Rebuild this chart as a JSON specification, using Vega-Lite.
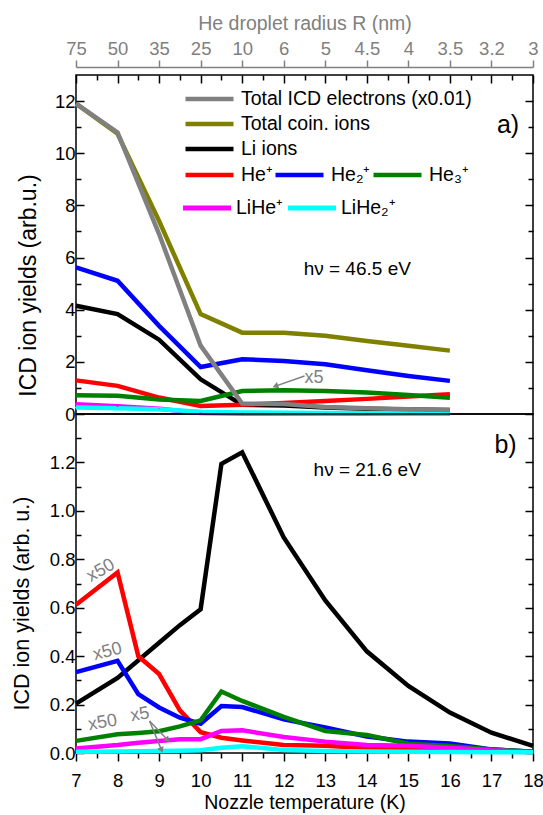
{
  "$schema": "https://vega.github.io/schema/vega-lite/v6.json",
  "padding": {"left": 10, "top": 12, "right": 5, "bottom": 0},
  "bounds": "flush",
  "spacing": 0,
  "config": {
    "font": "Liberation Sans",
    "view": {"stroke": "#000000", "strokeWidth": 1.5},
    "axis": {"grid": false, "domain": false, "tickColor": "#000000", "tickWidth": 1.5, "labelColor": "#000000", "titleColor": "#000000", "labelFont": "Liberation Sans", "titleFont": "Liberation Sans", "labelFontSize": 18.5, "titleFontSize": 19.5, "titleFontWeight": "normal", "labelFlush": false, "labelOverlap": false},
    "legend": {"labelFont": "Liberation Sans", "labelFontSize": 19.5, "labelColor": "#000000", "labelLimit": 400},
    "text": {"font": "Liberation Sans"}
  },
  "datasets": {
    "a": [
      {"s": "Li ions", "T": 7, "v": 4.15}, {"s": "Li ions", "T": 8, "v": 3.83}, {"s": "Li ions", "T": 9, "v": 2.85}, {"s": "Li ions", "T": 10, "v": 1.33}, {"s": "Li ions", "T": 11, "v": 0.35}, {"s": "Li ions", "T": 12, "v": 0.33}, {"s": "Li ions", "T": 13, "v": 0.25}, {"s": "Li ions", "T": 14, "v": 0.2}, {"s": "Li ions", "T": 15, "v": 0.17}, {"s": "Li ions", "T": 16, "v": 0.15},
      {"s": "He⁺", "T": 7, "v": 1.29}, {"s": "He⁺", "T": 8, "v": 1.08}, {"s": "He⁺", "T": 9, "v": 0.63}, {"s": "He⁺", "T": 10, "v": 0.31}, {"s": "He⁺", "T": 11, "v": 0.35}, {"s": "He⁺", "T": 12, "v": 0.42}, {"s": "He⁺", "T": 13, "v": 0.5}, {"s": "He⁺", "T": 14, "v": 0.58}, {"s": "He⁺", "T": 15, "v": 0.67}, {"s": "He⁺", "T": 16, "v": 0.76},
      {"s": "He₂⁺", "T": 7, "v": 5.62}, {"s": "He₂⁺", "T": 8, "v": 5.11}, {"s": "He₂⁺", "T": 9, "v": 3.38}, {"s": "He₂⁺", "T": 10, "v": 1.8}, {"s": "He₂⁺", "T": 11, "v": 2.1}, {"s": "He₂⁺", "T": 12, "v": 2.03}, {"s": "He₂⁺", "T": 13, "v": 1.91}, {"s": "He₂⁺", "T": 14, "v": 1.68}, {"s": "He₂⁺", "T": 15, "v": 1.46}, {"s": "He₂⁺", "T": 16, "v": 1.27},
      {"s": "He₃⁺", "T": 7, "v": 0.72}, {"s": "He₃⁺", "T": 8, "v": 0.7}, {"s": "He₃⁺", "T": 9, "v": 0.56}, {"s": "He₃⁺", "T": 10, "v": 0.5}, {"s": "He₃⁺", "T": 11, "v": 0.88}, {"s": "He₃⁺", "T": 12, "v": 0.91}, {"s": "He₃⁺", "T": 13, "v": 0.88}, {"s": "He₃⁺", "T": 14, "v": 0.82}, {"s": "He₃⁺", "T": 15, "v": 0.73}, {"s": "He₃⁺", "T": 16, "v": 0.62},
      {"s": "LiHe⁺", "T": 7, "v": 0.37}, {"s": "LiHe⁺", "T": 8, "v": 0.3}, {"s": "LiHe⁺", "T": 9, "v": 0.2}, {"s": "LiHe⁺", "T": 10, "v": 0.04}, {"s": "LiHe⁺", "T": 11, "v": 0.02}, {"s": "LiHe⁺", "T": 12, "v": 0.02}, {"s": "LiHe⁺", "T": 13, "v": 0.02}, {"s": "LiHe⁺", "T": 14, "v": 0.01}, {"s": "LiHe⁺", "T": 15, "v": 0.01}, {"s": "LiHe⁺", "T": 16, "v": 0.01},
      {"s": "LiHe₂⁺", "T": 7, "v": 0.25}, {"s": "LiHe₂⁺", "T": 8, "v": 0.22}, {"s": "LiHe₂⁺", "T": 9, "v": 0.18}, {"s": "LiHe₂⁺", "T": 10, "v": 0.09}, {"s": "LiHe₂⁺", "T": 11, "v": 0.06}, {"s": "LiHe₂⁺", "T": 12, "v": 0.05}, {"s": "LiHe₂⁺", "T": 13, "v": 0.04}, {"s": "LiHe₂⁺", "T": 14, "v": 0.03}, {"s": "LiHe₂⁺", "T": 15, "v": 0.02}, {"s": "LiHe₂⁺", "T": 16, "v": 0.02},
      {"s": "Total coin. ions", "T": 7, "v": 11.9}, {"s": "Total coin. ions", "T": 8, "v": 10.75}, {"s": "Total coin. ions", "T": 9, "v": 7.4}, {"s": "Total coin. ions", "T": 10, "v": 3.83}, {"s": "Total coin. ions", "T": 11, "v": 3.12}, {"s": "Total coin. ions", "T": 12, "v": 3.12}, {"s": "Total coin. ions", "T": 13, "v": 3.0}, {"s": "Total coin. ions", "T": 14, "v": 2.8}, {"s": "Total coin. ions", "T": 15, "v": 2.62}, {"s": "Total coin. ions", "T": 16, "v": 2.43},
      {"s": "Total ICD electrons (x0.01)", "T": 7, "v": 11.9}, {"s": "Total ICD electrons (x0.01)", "T": 8, "v": 10.8}, {"s": "Total ICD electrons (x0.01)", "T": 9, "v": 6.9}, {"s": "Total ICD electrons (x0.01)", "T": 10, "v": 2.62}, {"s": "Total ICD electrons (x0.01)", "T": 11, "v": 0.4}, {"s": "Total ICD electrons (x0.01)", "T": 12, "v": 0.38}, {"s": "Total ICD electrons (x0.01)", "T": 13, "v": 0.27}, {"s": "Total ICD electrons (x0.01)", "T": 14, "v": 0.22}, {"s": "Total ICD electrons (x0.01)", "T": 15, "v": 0.18}, {"s": "Total ICD electrons (x0.01)", "T": 16, "v": 0.15}
    ],
    "b": [
      {"s": "Li ions", "T": 7, "v": 0.204}, {"s": "Li ions", "T": 8, "v": 0.31}, {"s": "Li ions", "T": 9, "v": 0.455}, {"s": "Li ions", "T": 9.5, "v": 0.528}, {"s": "Li ions", "T": 10, "v": 0.594}, {"s": "Li ions", "T": 10.5, "v": 1.194}, {"s": "Li ions", "T": 11, "v": 1.242}, {"s": "Li ions", "T": 12, "v": 0.89}, {"s": "Li ions", "T": 13, "v": 0.63}, {"s": "Li ions", "T": 14, "v": 0.42}, {"s": "Li ions", "T": 15, "v": 0.277}, {"s": "Li ions", "T": 16, "v": 0.167}, {"s": "Li ions", "T": 17, "v": 0.084}, {"s": "Li ions", "T": 18, "v": 0.029},
      {"s": "He⁺", "T": 7, "v": 0.612}, {"s": "He⁺", "T": 8, "v": 0.746}, {"s": "He⁺", "T": 8.5, "v": 0.4}, {"s": "He⁺", "T": 9, "v": 0.326}, {"s": "He⁺", "T": 9.5, "v": 0.176}, {"s": "He⁺", "T": 10, "v": 0.086}, {"s": "He⁺", "T": 10.5, "v": 0.063}, {"s": "He⁺", "T": 11, "v": 0.052}, {"s": "He⁺", "T": 12, "v": 0.033}, {"s": "He⁺", "T": 13, "v": 0.03}, {"s": "He⁺", "T": 14, "v": 0.02}, {"s": "He⁺", "T": 15, "v": 0.015}, {"s": "He⁺", "T": 16, "v": 0.01}, {"s": "He⁺", "T": 17, "v": 0.006}, {"s": "He⁺", "T": 18, "v": 0.004},
      {"s": "He₂⁺", "T": 7, "v": 0.334}, {"s": "He₂⁺", "T": 8, "v": 0.381}, {"s": "He₂⁺", "T": 8.5, "v": 0.243}, {"s": "He₂⁺", "T": 9, "v": 0.188}, {"s": "He₂⁺", "T": 9.5, "v": 0.146}, {"s": "He₂⁺", "T": 10, "v": 0.121}, {"s": "He₂⁺", "T": 10.5, "v": 0.194}, {"s": "He₂⁺", "T": 11, "v": 0.19}, {"s": "He₂⁺", "T": 12, "v": 0.139}, {"s": "He₂⁺", "T": 13, "v": 0.105}, {"s": "He₂⁺", "T": 14, "v": 0.068}, {"s": "He₂⁺", "T": 15, "v": 0.047}, {"s": "He₂⁺", "T": 16, "v": 0.039}, {"s": "He₂⁺", "T": 17, "v": 0.015}, {"s": "He₂⁺", "T": 18, "v": 0.005},
      {"s": "He₃⁺", "T": 7, "v": 0.05}, {"s": "He₃⁺", "T": 8, "v": 0.077}, {"s": "He₃⁺", "T": 8.5, "v": 0.083}, {"s": "He₃⁺", "T": 9, "v": 0.09}, {"s": "He₃⁺", "T": 9.5, "v": 0.11}, {"s": "He₃⁺", "T": 10, "v": 0.135}, {"s": "He₃⁺", "T": 10.5, "v": 0.254}, {"s": "He₃⁺", "T": 11, "v": 0.215}, {"s": "He₃⁺", "T": 12, "v": 0.149}, {"s": "He₃⁺", "T": 13, "v": 0.091}, {"s": "He₃⁺", "T": 14, "v": 0.074}, {"s": "He₃⁺", "T": 15, "v": 0.038}, {"s": "He₃⁺", "T": 16, "v": 0.029}, {"s": "He₃⁺", "T": 17, "v": 0.015}, {"s": "He₃⁺", "T": 18, "v": 0.005},
      {"s": "LiHe⁺", "T": 7, "v": 0.019}, {"s": "LiHe⁺", "T": 8, "v": 0.033}, {"s": "LiHe⁺", "T": 8.5, "v": 0.042}, {"s": "LiHe⁺", "T": 9, "v": 0.05}, {"s": "LiHe⁺", "T": 9.5, "v": 0.057}, {"s": "LiHe⁺", "T": 10, "v": 0.057}, {"s": "LiHe⁺", "T": 10.5, "v": 0.091}, {"s": "LiHe⁺", "T": 11, "v": 0.094}, {"s": "LiHe⁺", "T": 12, "v": 0.066}, {"s": "LiHe⁺", "T": 13, "v": 0.047}, {"s": "LiHe⁺", "T": 14, "v": 0.033}, {"s": "LiHe⁺", "T": 15, "v": 0.03}, {"s": "LiHe⁺", "T": 16, "v": 0.022}, {"s": "LiHe⁺", "T": 17, "v": 0.011}, {"s": "LiHe⁺", "T": 18, "v": 0.004},
      {"s": "LiHe₂⁺", "T": 7, "v": 0.005}, {"s": "LiHe₂⁺", "T": 8, "v": 0.006}, {"s": "LiHe₂⁺", "T": 8.5, "v": 0.007}, {"s": "LiHe₂⁺", "T": 9, "v": 0.008}, {"s": "LiHe₂⁺", "T": 9.5, "v": 0.009}, {"s": "LiHe₂⁺", "T": 10, "v": 0.011}, {"s": "LiHe₂⁺", "T": 10.5, "v": 0.022}, {"s": "LiHe₂⁺", "T": 11, "v": 0.028}, {"s": "LiHe₂⁺", "T": 12, "v": 0.012}, {"s": "LiHe₂⁺", "T": 13, "v": 0.008}, {"s": "LiHe₂⁺", "T": 14, "v": 0.006}, {"s": "LiHe₂⁺", "T": 15, "v": 0.005}, {"s": "LiHe₂⁺", "T": 16, "v": 0.004}, {"s": "LiHe₂⁺", "T": 17, "v": 0.003}, {"s": "LiHe₂⁺", "T": 18, "v": 0.003}
    ],
    "notes": [
      {"p": "a", "k": "hv", "label": "hν = 46.5 eV", "T": 13.77, "v": 5.57},
      {"p": "a", "k": "tag", "label": "a)", "T": 17.4, "v": 11.1},
      {"p": "a", "k": "flat", "label": "x5", "T": 12.73, "v": 1.38},
      {"p": "b", "k": "hv", "label": "hν = 21.6 eV", "T": 14.01, "v": 1.167},
      {"p": "b", "k": "tag", "label": "b)", "T": 17.34, "v": 1.27},
      {"p": "b", "k": "steep", "label": "x50", "T": 7.6, "v": 0.753},
      {"p": "b", "k": "mid", "label": "x50", "T": 7.76, "v": 0.418},
      {"p": "b", "k": "low", "label": "x50", "T": 7.64, "v": 0.125},
      {"p": "b", "k": "low", "label": "x5", "T": 8.54, "v": 0.158}
    ],
    "arrows": [
      {"p": "a", "k": "left", "T": 12.5, "v": 1.46, "T2": 11.82, "v2": 1.08},
      {"p": "b", "k": "cyan", "T": 8.77, "v": 0.132, "T2": 9.05, "v2": 0.016},
      {"p": "b", "k": "magenta", "T": 8.77, "v": 0.132, "T2": 9.19, "v2": 0.057}
    ]
  },
  "vconcat": [
    {
      "width": 457,
      "height": 339,
      "layer": [
        {
          "data": {"name": "a"},
          "transform": [{"filter": "datum.s === 'Li ions'"}],
          "mark": {"type": "line", "strokeWidth": 4.5},
          "encoding": {
            "x": {"field": "T", "type": "quantitative", "scale": {"domain": [7, 18], "nice": false, "zero": false},
              "axis": {"orient": "top", "offset": 8, "values": [7, 8, 9, 10, 11, 12, 13, 14, 15, 16, 17, 18], "labelExpr": "['75','50','35','25','10','6','5','4.5','4','3.5','3.2','3'][round(datum.value)-7]", "domain": true, "domainColor": "#808080", "domainWidth": 1.5, "tickColor": "#808080", "tickSize": 7, "labelColor": "#808080", "labelPadding": 2, "title": "He droplet radius R (nm)", "titleColor": "#808080", "titlePadding": 6}},
            "y": {"field": "v", "type": "quantitative", "scale": {"domain": [0, 13], "nice": false, "zero": false},
              "axis": {"orient": "left", "values": [0, 2, 4, 6, 8, 10, 12], "tickSize": -8, "labelPadding": 9, "title": "ICD ion yields (arb.u.)", "titleFontSize": 23, "titleBaseline": "middle", "titleX": -48, "titleY": 210}},
            "color": {"field": "s", "type": "nominal", "scale": {"domain": ["Total ICD electrons (x0.01)", "Total coin. ions", "Li ions"], "range": ["#808080", "#808000", "#000000"]},
              "legend": {"orient": "none", "legendX": 107, "legendY": 14, "title": null, "symbolType": "stroke", "symbolSize": 2304, "symbolStrokeWidth": 4.5, "labelOffset": 5, "clipHeight": 20, "rowPadding": 5, "direction": "vertical"}}
          }
        },
        {
          "data": {"name": "a"},
          "transform": [{"filter": {"field": "s", "oneOf": ["He⁺", "He₂⁺", "He₃⁺"]}}],
          "mark": {"type": "line", "strokeWidth": 4.5},
          "encoding": {
            "x": {"field": "T", "type": "quantitative", "scale": {"domain": [7, 18], "nice": false, "zero": false},
              "axis": {"orient": "top", "values": [7, 8, 9, 10, 11, 12, 13, 14, 15, 16, 17, 18], "tickSize": -8, "labels": false, "title": null}},
            "y": {"field": "v", "type": "quantitative", "scale": {"domain": [0, 13], "nice": false, "zero": false},
              "axis": {"orient": "left", "values": [1, 3, 5, 7, 9, 11], "tickSize": -5, "labels": false, "title": null}},
            "stroke": {"field": "s", "type": "nominal", "scale": {"domain": ["He⁺", "He₂⁺", "He₃⁺"], "range": ["#ff0000", "#0000ff", "#008000"]},
              "legend": {"orient": "none", "legendX": 107, "legendY": 90, "title": null, "symbolType": "stroke", "symbolSize": 2304, "symbolStrokeWidth": 4.5, "labelOffset": 5, "clipHeight": 20, "direction": "horizontal", "columnPadding": -8}}
          }
        },
        {
          "data": {"name": "a"},
          "transform": [{"filter": "datum.s === 'LiHe⁺'"}],
          "mark": {"type": "line", "strokeWidth": 4.5, "color": "#ff00ff"},
          "encoding": {
            "x": {"field": "T", "type": "quantitative", "scale": {"domain": [7, 18], "nice": false, "zero": false}, "axis": null},
            "y": {"field": "v", "type": "quantitative", "scale": {"domain": [0, 13], "nice": false, "zero": false}, "axis": null}
          }
        },
        {
          "data": {"name": "a"},
          "transform": [{"filter": "datum.s === 'LiHe₂⁺'"}],
          "mark": {"type": "line", "strokeWidth": 4.5, "color": "#00ffff"},
          "encoding": {
            "x": {"field": "T", "type": "quantitative", "scale": {"domain": [7, 18], "nice": false, "zero": false}, "axis": null},
            "y": {"field": "v", "type": "quantitative", "scale": {"domain": [0, 13], "nice": false, "zero": false}, "axis": null}
          }
        },
        {
          "data": {"name": "a"},
          "transform": [{"filter": {"field": "s", "oneOf": ["LiHe⁺", "LiHe₂⁺"]}}],
          "mark": {"type": "point", "filled": true, "size": 4, "opacity": 1, "strokeWidth": 0},
          "encoding": {
            "x": {"field": "T", "type": "quantitative", "scale": {"domain": [7, 18], "nice": false, "zero": false}, "axis": null},
            "y": {"field": "v", "type": "quantitative", "scale": {"domain": [0, 13], "nice": false, "zero": false}, "axis": null},
            "fill": {"field": "s", "type": "nominal", "scale": {"domain": ["LiHe⁺", "LiHe₂⁺"], "range": ["#ff00ff", "#00ffff"]},
              "legend": {"orient": "none", "legendX": 107, "legendY": 123, "title": null, "symbolType": "M-1,-0.1H1V0.1H-1Z", "symbolSize": 2304, "symbolStrokeWidth": 0, "labelOffset": 5, "clipHeight": 20, "direction": "horizontal", "columnPadding": 4}}
          }
        },
        {
          "data": {"name": "a"},
          "transform": [{"filter": {"field": "s", "oneOf": ["Total coin. ions", "Total ICD electrons (x0.01)"]}}],
          "mark": {"type": "line", "strokeWidth": 4.5},
          "encoding": {
            "x": {"field": "T", "type": "quantitative", "scale": {"domain": [7, 18], "nice": false, "zero": false},
              "axis": {"orient": "top", "values": [7.5, 8.5, 9.5, 10.5, 11.5, 12.5, 13.5, 14.5, 15.5, 16.5, 17.5], "tickSize": -5, "labels": false, "title": null}},
            "y": {"field": "v", "type": "quantitative", "scale": {"domain": [0, 13], "nice": false, "zero": false},
              "axis": {"orient": "right", "values": [0, 2, 4, 6, 8, 10, 12], "tickSize": -8, "labels": false, "title": null}},
            "color": {"field": "s", "type": "nominal", "scale": {"domain": ["Total ICD electrons (x0.01)", "Total coin. ions", "Li ions"], "range": ["#808080", "#808000", "#000000"]},
              "legend": {"orient": "none", "legendX": 107, "legendY": 14, "title": null, "symbolType": "stroke", "symbolSize": 2304, "symbolStrokeWidth": 4.5, "labelOffset": 5, "clipHeight": 20, "rowPadding": 5, "direction": "vertical"}}
          }
        },
        {
          "data": {"name": "notes"},
          "transform": [{"filter": "datum.p === 'a' && datum.k === 'hv'"}],
          "mark": {"type": "text", "fontSize": 19, "color": "#000000"},
          "encoding": {
            "x": {"field": "T", "type": "quantitative", "scale": {"domain": [7, 18], "nice": false, "zero": false}, "axis": null},
            "y": {"field": "v", "type": "quantitative", "scale": {"domain": [0, 13], "nice": false, "zero": false},
              "axis": {"orient": "right", "values": [1, 3, 5, 7, 9, 11], "tickSize": -5, "labels": false, "title": null}},
            "text": {"field": "label"}
          }
        },
        {
          "data": {"name": "notes"},
          "transform": [{"filter": "datum.p === 'a' && datum.k === 'tag'"}],
          "mark": {"type": "text", "fontSize": 25, "color": "#000000"},
          "encoding": {
            "x": {"field": "T", "type": "quantitative", "scale": {"domain": [7, 18], "nice": false, "zero": false}, "axis": null},
            "y": {"field": "v", "type": "quantitative", "scale": {"domain": [0, 13], "nice": false, "zero": false}, "axis": null},
            "text": {"field": "label"}
          }
        },
        {
          "data": {"name": "notes"},
          "transform": [{"filter": "datum.p === 'a' && datum.k === 'flat'"}],
          "mark": {"type": "text", "fontSize": 18, "color": "#808080"},
          "encoding": {
            "x": {"field": "T", "type": "quantitative", "scale": {"domain": [7, 18], "nice": false, "zero": false}, "axis": null},
            "y": {"field": "v", "type": "quantitative", "scale": {"domain": [0, 13], "nice": false, "zero": false}, "axis": null},
            "text": {"field": "label"}
          }
        },
        {
          "data": {"name": "arrows"},
          "transform": [{"filter": "datum.p === 'a'"}],
          "mark": {"type": "rule", "color": "#808080", "strokeWidth": 1.5},
          "encoding": {
            "x": {"field": "T", "type": "quantitative", "scale": {"domain": [7, 18], "nice": false, "zero": false}, "axis": null},
            "y": {"field": "v", "type": "quantitative", "scale": {"domain": [0, 13], "nice": false, "zero": false}, "axis": null},
            "x2": {"field": "T2"},
            "y2": {"field": "v2"}
          }
        },
        {
          "data": {"name": "arrows"},
          "transform": [{"filter": "datum.p === 'a'"}],
          "mark": {"type": "point", "shape": "triangle", "filled": true, "color": "#808080", "size": 45, "angle": 250, "opacity": 1},
          "encoding": {
            "x": {"field": "T2", "type": "quantitative", "scale": {"domain": [7, 18], "nice": false, "zero": false}, "axis": null},
            "y": {"field": "v2", "type": "quantitative", "scale": {"domain": [0, 13], "nice": false, "zero": false}, "axis": null}
          }
        }
      ],
      "resolve": {"axis": {"x": "independent", "y": "independent"}}
    },
    {
      "width": 457,
      "height": 339,
      "layer": [
        {
          "data": {"name": "b"},
          "transform": [{"filter": "datum.s === 'Li ions'"}],
          "mark": {"type": "line", "strokeWidth": 4.5},
          "encoding": {
            "x": {"field": "T", "type": "quantitative", "scale": {"domain": [7, 18], "nice": false, "zero": false},
              "axis": {"orient": "bottom", "values": [7, 8, 9, 10, 11, 12, 13, 14, 15, 16, 17, 18], "tickSize": 8, "labelPadding": 10, "title": "Nozzle temperature (K)", "titlePadding": 4}},
            "y": {"field": "v", "type": "quantitative", "scale": {"domain": [0, 1.4], "nice": false, "zero": false},
              "axis": {"orient": "left", "values": [0, 0.2, 0.4, 0.6, 0.8, 1.0, 1.2], "format": ".1f", "tickSize": -8, "labelPadding": 9, "title": "ICD ion yields (arb. u.)", "titleFontSize": 21.5, "titleBaseline": "middle", "titleX": -54, "titleY": 189}},
            "color": {"field": "s", "type": "nominal", "scale": {"domain": ["Li ions", "He⁺", "He₂⁺", "He₃⁺", "LiHe⁺", "LiHe₂⁺"], "range": ["#000000", "#ff0000", "#0000ff", "#008000", "#ff00ff", "#00ffff"]}, "legend": null}
          }
        },
        {
          "data": {"name": "b"},
          "transform": [{"filter": "datum.s !== 'Li ions'"}],
          "mark": {"type": "line", "strokeWidth": 4.5},
          "encoding": {
            "x": {"field": "T", "type": "quantitative", "scale": {"domain": [7, 18], "nice": false, "zero": false},
              "axis": {"orient": "bottom", "values": [7.5, 8.5, 9.5, 10.5, 11.5, 12.5, 13.5, 14.5, 15.5, 16.5, 17.5], "tickSize": 5, "labels": false, "title": null}},
            "y": {"field": "v", "type": "quantitative", "scale": {"domain": [0, 1.4], "nice": false, "zero": false},
              "axis": {"orient": "left", "values": [0.1, 0.3, 0.5, 0.7, 0.9, 1.1, 1.3], "tickSize": -5, "labels": false, "title": null}},
            "color": {"field": "s", "type": "nominal", "scale": {"domain": ["Li ions", "He⁺", "He₂⁺", "He₃⁺", "LiHe⁺", "LiHe₂⁺"], "range": ["#000000", "#ff0000", "#0000ff", "#008000", "#ff00ff", "#00ffff"]}, "legend": null}
          }
        },
        {
          "data": {"name": "notes"},
          "transform": [{"filter": "datum.p === 'b' && datum.k === 'hv'"}],
          "mark": {"type": "text", "fontSize": 19, "color": "#000000"},
          "encoding": {
            "x": {"field": "T", "type": "quantitative", "scale": {"domain": [7, 18], "nice": false, "zero": false}, "axis": null},
            "y": {"field": "v", "type": "quantitative", "scale": {"domain": [0, 1.4], "nice": false, "zero": false},
              "axis": {"orient": "right", "values": [0, 0.2, 0.4, 0.6, 0.8, 1.0, 1.2], "tickSize": -8, "labels": false, "title": null}},
            "text": {"field": "label"}
          }
        },
        {
          "data": {"name": "notes"},
          "transform": [{"filter": "datum.p === 'b' && datum.k === 'tag'"}],
          "mark": {"type": "text", "fontSize": 25, "color": "#000000"},
          "encoding": {
            "x": {"field": "T", "type": "quantitative", "scale": {"domain": [7, 18], "nice": false, "zero": false}, "axis": null},
            "y": {"field": "v", "type": "quantitative", "scale": {"domain": [0, 1.4], "nice": false, "zero": false},
              "axis": {"orient": "right", "values": [0.1, 0.3, 0.5, 0.7, 0.9, 1.1, 1.3], "tickSize": -5, "labels": false, "title": null}},
            "text": {"field": "label"}
          }
        },
        {
          "data": {"name": "notes"},
          "transform": [{"filter": "datum.p === 'b' && datum.k === 'steep'"}],
          "mark": {"type": "text", "fontSize": 18, "color": "#808080", "angle": -30},
          "encoding": {
            "x": {"field": "T", "type": "quantitative", "scale": {"domain": [7, 18], "nice": false, "zero": false}, "axis": null},
            "y": {"field": "v", "type": "quantitative", "scale": {"domain": [0, 1.4], "nice": false, "zero": false}, "axis": null},
            "text": {"field": "label"}
          }
        },
        {
          "data": {"name": "notes"},
          "transform": [{"filter": "datum.p === 'b' && datum.k === 'mid'"}],
          "mark": {"type": "text", "fontSize": 18, "color": "#808080", "angle": -15},
          "encoding": {
            "x": {"field": "T", "type": "quantitative", "scale": {"domain": [7, 18], "nice": false, "zero": false}, "axis": null},
            "y": {"field": "v", "type": "quantitative", "scale": {"domain": [0, 1.4], "nice": false, "zero": false}, "axis": null},
            "text": {"field": "label"}
          }
        },
        {
          "data": {"name": "notes"},
          "transform": [{"filter": "datum.p === 'b' && datum.k === 'low'"}],
          "mark": {"type": "text", "fontSize": 18, "color": "#808080", "angle": -10},
          "encoding": {
            "x": {"field": "T", "type": "quantitative", "scale": {"domain": [7, 18], "nice": false, "zero": false}, "axis": null},
            "y": {"field": "v", "type": "quantitative", "scale": {"domain": [0, 1.4], "nice": false, "zero": false}, "axis": null},
            "text": {"field": "label"}
          }
        },
        {
          "data": {"name": "arrows"},
          "transform": [{"filter": "datum.p === 'b'"}],
          "mark": {"type": "rule", "color": "#808080", "strokeWidth": 1.5},
          "encoding": {
            "x": {"field": "T", "type": "quantitative", "scale": {"domain": [7, 18], "nice": false, "zero": false}, "axis": null},
            "y": {"field": "v", "type": "quantitative", "scale": {"domain": [0, 1.4], "nice": false, "zero": false}, "axis": null},
            "x2": {"field": "T2"},
            "y2": {"field": "v2"}
          }
        },
        {
          "data": {"name": "arrows"},
          "transform": [{"filter": "datum.p === 'b' && datum.k === 'cyan'"}],
          "mark": {"type": "point", "shape": "triangle", "filled": true, "color": "#808080", "size": 45, "angle": 157, "opacity": 1},
          "encoding": {
            "x": {"field": "T2", "type": "quantitative", "scale": {"domain": [7, 18], "nice": false, "zero": false}, "axis": null},
            "y": {"field": "v2", "type": "quantitative", "scale": {"domain": [0, 1.4], "nice": false, "zero": false}, "axis": null}
          }
        },
        {
          "data": {"name": "arrows"},
          "transform": [{"filter": "datum.p === 'b' && datum.k === 'magenta'"}],
          "mark": {"type": "point", "shape": "triangle", "filled": true, "color": "#808080", "size": 45, "angle": 136, "opacity": 1},
          "encoding": {
            "x": {"field": "T2", "type": "quantitative", "scale": {"domain": [7, 18], "nice": false, "zero": false}, "axis": null},
            "y": {"field": "v2", "type": "quantitative", "scale": {"domain": [0, 1.4], "nice": false, "zero": false}, "axis": null}
          }
        }
      ],
      "resolve": {"axis": {"x": "independent", "y": "independent"}}
    }
  ],
  "resolve": {"scale": {"color": "independent", "stroke": "independent", "fill": "independent"}, "legend": {"color": "independent", "stroke": "independent", "fill": "independent"}}
}
